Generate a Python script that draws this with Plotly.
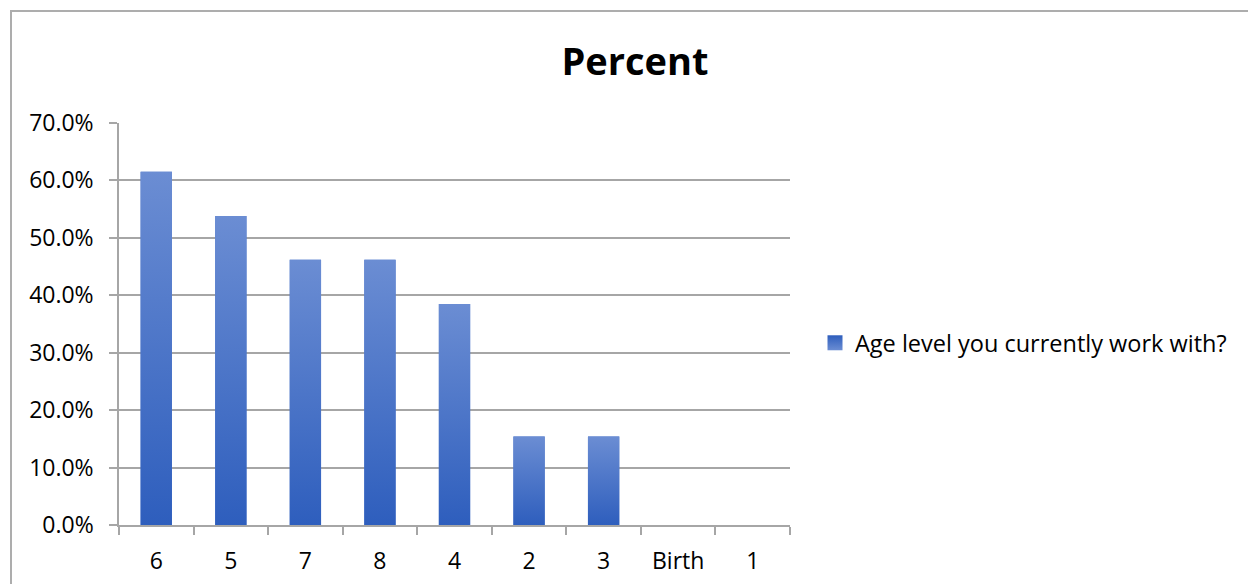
import plotly.graph_objects as go

# Survey result: share of respondents per age level
categories = ["6", "5", "7", "8", "4", "2", "3", "Birth", "1"]
percent = [0.615, 0.538, 0.462, 0.462, 0.385, 0.154, 0.154, 0.0, 0.0]
series_name = "Age level you currently work with?"

W, H = 1248, 584
PLOT_L, PLOT_R, PLOT_T, PLOT_B = 119, 790, 123, 525

BAR_W = 0.42
TOP_C = "#6B8DD3"
BOT_C = "#2E5EBD"
MID_C = "#4A74C9"
GRID_C = "#A6A6A6"
FONT = "Open Sans"

idx = list(range(len(categories)))

fig = go.Figure()

# solid bars carry the data
fig.add_trace(go.Bar(
    x=idx, y=percent, width=BAR_W, marker=dict(color=MID_C, line=dict(width=0)),
    showlegend=False, hoverinfo="skip",
))

# vertical gradient fill laid over each bar
for i, v in zip(idx, percent):
    if v <= 0:
        continue
    x0, x1 = i - BAR_W / 2, i + BAR_W / 2
    fig.add_trace(go.Scatter(
        x=[x0, x0, x1, x1, x0], y=[0, v, v, 0, 0],
        mode="lines", line=dict(width=0), fill="toself",
        fillgradient=dict(type="vertical", colorscale=[[0, BOT_C], [1, TOP_C]]),
        showlegend=False, hoverinfo="skip",
    ))

# legend entry
fig.add_trace(go.Scatter(
    x=[None], y=[None], mode="markers", name=series_name,
    marker=dict(symbol="square", size=15, color=BOT_C,
                gradient=dict(type="vertical", color=TOP_C)),
))

pw = PLOT_R - PLOT_L
ph = PLOT_B - PLOT_T

fig.update_layout(
    width=W, height=H,
    margin=dict(l=PLOT_L, r=W - PLOT_R, t=PLOT_T, b=H - PLOT_B, autoexpand=False),
    paper_bgcolor="white", plot_bgcolor="white",
    font=dict(family=FONT, size=23, color="#000000"),
    title=dict(text="<b>Percent</b>", font=dict(family=FONT, size=38, color="#000000"),
               x=635 / W, xanchor="center", xref="container",
               y=1 - 62 / H, yanchor="middle", yref="container"),
    showlegend=True,
    legend=dict(x=(815 - PLOT_L) / pw, xanchor="left",
                y=(PLOT_B - 343) / ph, yanchor="middle",
                font=dict(family=FONT, size=23.5, color="#000000"),
                bgcolor="rgba(0,0,0,0)", itemsizing="trace"),
    xaxis=dict(
        range=[-0.5, len(categories) - 0.5], tickmode="array", tickvals=idx, ticktext=categories,
        ticks="", showgrid=False, zeroline=False, showline=True, automargin=False,
        linecolor=GRID_C, linewidth=1.5, ticklabelstandoff=15, fixedrange=True,
        minor=dict(tickmode="array", tickvals=[k - 0.5 for k in range(len(categories) + 1)],
                   ticks="outside", ticklen=8, tickcolor=GRID_C, tickwidth=1.5, showgrid=False),
    ),
    yaxis=dict(
        range=[0, 0.7], dtick=0.1, tickformat=".1%", ticks="outside", ticklen=8,
        tickcolor=GRID_C, tickwidth=1.5, showgrid=True, gridcolor=GRID_C, gridwidth=1.5,
        zeroline=False, showline=True, linecolor=GRID_C, linewidth=1.5, automargin=False,
        ticklabelstandoff=11, fixedrange=True,
    ),
    shapes=[dict(
        type="rect", xref="paper", yref="paper",
        x0=(11 - PLOT_L) / pw, x1=(W + 5 - PLOT_L) / pw,
        y0=-(H + 5 - PLOT_B) / ph, y1=1 + (PLOT_T - 11) / ph,
        line=dict(color="#ADADAD", width=2), fillcolor="rgba(0,0,0,0)", layer="below",
    )],
)

fig.write_html("out.html")
